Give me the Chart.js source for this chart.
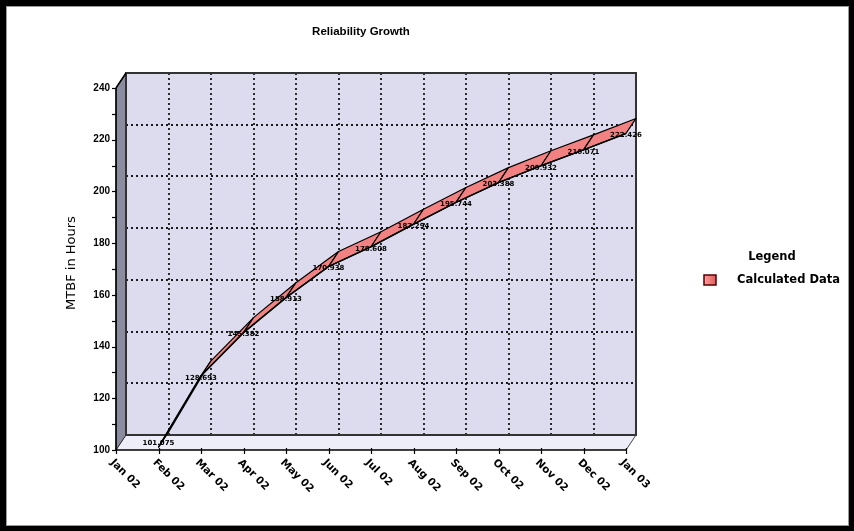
<!DOCTYPE html>
<html>
<head>
<meta charset="utf-8">
<script src="https://cdn.jsdelivr.net/npm/chart.js@4/dist/chart.umd.min.js"></script>
<style>
html,body{margin:0;padding:0;background:#fff;}
#wrap{width:854px;height:531px;position:relative;}
</style>
</head>
<body>
<div id="wrap"><canvas id="c" width="854" height="531"></canvas></div>
<script>
const categories = ['Jan 02','Feb 02','Mar 02','Apr 02','May 02','Jun 02','Jul 02','Aug 02','Sep 02','Oct 02','Nov 02','Dec 02','Jan 03'];
const mtbfValues = [null, 101.075, 128.693, 145.382, 158.913, 170.938, 178.608, 187.294, 195.744, 203.388, 209.932, 216.071, 222.426];
const yTicks = [100, 120, 140, 160, 180, 200, 220, 240];
const chartTitle = 'Reliability Growth';
const yTitle = 'MTBF in Hours';
const legendTitle = 'Legend';
const seriesName = 'Calculated Data';

const DX = 10, DY = -15;
const FONT = '"Liberation Sans", Arial, sans-serif';
const VFONT = '"DejaVu Sans", Verdana, sans-serif';

const deco = {
  id: 'deco',
  beforeDraw(chart) {
    const ctx = chart.ctx, a = chart.chartArea, ys = chart.scales.y, xs = chart.scales.x;
    const W = chart.width, H = chart.height;
    ctx.save();
    // frame
    ctx.fillStyle = '#000';
    ctx.fillRect(0, 0, W, H);
    ctx.fillStyle = '#fff';
    ctx.fillRect(6, 6, 843, 520);
    ctx.strokeStyle = '#9a9a9a';
    ctx.lineWidth = 1;
    ctx.strokeRect(6.5, 6.5, 842, 519);
    const L = a.left, R = a.right, T = a.top, B = a.bottom;
    // floor
    ctx.fillStyle = '#eeeef8';
    ctx.beginPath();
    ctx.moveTo(L, B); ctx.lineTo(R, B); ctx.lineTo(R + DX, B + DY); ctx.lineTo(L + DX, B + DY); ctx.closePath();
    ctx.fill();
    // side wall
    ctx.fillStyle = '#8c8ca0';
    ctx.beginPath();
    ctx.moveTo(L, T); ctx.lineTo(L + DX, T + DY); ctx.lineTo(L + DX, B + DY); ctx.lineTo(L, B); ctx.closePath();
    ctx.fill();
    ctx.strokeStyle = '#222'; ctx.lineWidth = 1; ctx.stroke();
    // back wall
    ctx.fillStyle = '#dcdcee';
    ctx.fillRect(L + DX, T + DY, R - L, B - T);
    // grid
    ctx.strokeStyle = '#1a1a1a';
    ctx.lineWidth = 1.8;
    ctx.setLineDash([2, 3]);
    yTicks.forEach(v => {
      if (v === ys.min || v === ys.max) return;
      const y = Math.round(ys.getPixelForValue(v)) + DY;
      ctx.beginPath(); ctx.moveTo(L + DX, y); ctx.lineTo(R + DX, y); ctx.stroke();
    });
    categories.forEach((c, i) => {
      if (i === 0 || i === categories.length - 1) return;
      const x = Math.round(xs.getPixelForValue(i)) + DX;
      ctx.beginPath(); ctx.moveTo(x, T + DY); ctx.lineTo(x, B + DY); ctx.stroke();
    });
    ctx.setLineDash([]);
    // back wall border
    ctx.strokeStyle = '#333';
    ctx.lineWidth = 2;
    ctx.strokeRect(L + DX, T + DY, R - L, B - T);
    ctx.lineWidth = 1;
    ctx.strokeStyle = '#444';
    ctx.beginPath(); ctx.moveTo(R, B); ctx.lineTo(R + DX, B + DY); ctx.stroke();
    // titles
    ctx.fillStyle = '#000';
    ctx.font = 'bold 11.5px ' + FONT;
    ctx.textAlign = 'center'; ctx.textBaseline = 'middle';
    ctx.fillText(chartTitle, 361, 32);
    ctx.save();
    ctx.translate(72, 263); ctx.rotate(-Math.PI / 2);
    ctx.font = '13px ' + VFONT;
    ctx.fillText(yTitle, 0, 0);
    ctx.restore();
    // legend
    ctx.font = 'bold 11.5px ' + VFONT;
    ctx.fillText(legendTitle, 772, 257);
    const g = ctx.createLinearGradient(704, 0, 716, 0);
    g.addColorStop(0, '#ff9c9c'); g.addColorStop(1, '#e05c5c');
    ctx.fillStyle = g;
    ctx.fillRect(704, 275, 12, 10);
    ctx.strokeStyle = '#500'; ctx.lineWidth = 1.5;
    ctx.strokeRect(704, 275, 12, 10);
    ctx.fillStyle = '#000';
    ctx.textAlign = 'left';
    ctx.fillText(seriesName, 737, 280);
    ctx.restore();
  },
  beforeDatasetsDraw(chart) {
    const ctx = chart.ctx;
    const pts = chart.getDatasetMeta(0).data.filter((p, i) => mtbfValues[i] !== null);
    ctx.save();
    ctx.fillStyle = '#f28282';
    ctx.strokeStyle = '#000';
    ctx.lineWidth = 1.2;
    ctx.lineJoin = 'round';
    for (let i = 0; i < pts.length - 1; i++) {
      const p = pts[i], q = pts[i + 1];
      ctx.beginPath();
      ctx.moveTo(p.x, p.y); ctx.lineTo(q.x, q.y);
      ctx.lineTo(q.x + DX, q.y + DY); ctx.lineTo(p.x + DX, p.y + DY);
      ctx.closePath();
      ctx.fill(); ctx.stroke();
    }
    ctx.restore();
  },
  afterDatasetsDraw(chart) {
    const ctx = chart.ctx, a = chart.chartArea, ys = chart.scales.y, xs = chart.scales.x;
    const meta = chart.getDatasetMeta(0);
    ctx.save();
    ctx.fillStyle = '#000';
    ctx.font = 'bold 7px ' + VFONT;
    ctx.textAlign = 'center'; ctx.textBaseline = 'middle';
    meta.data.forEach((p, i) => {
      const v = mtbfValues[i];
      if (v === null) return;
      ctx.fillText(v.toFixed(3), p.x, Math.min(p.y + 2, a.bottom - 7));
    });
    // axes
    const L = a.left, R = a.right, T = a.top, B = a.bottom;
    ctx.strokeStyle = '#000';
    ctx.lineWidth = 1.5;
    ctx.beginPath(); ctx.moveTo(L, T); ctx.lineTo(L, B); ctx.lineTo(R, B); ctx.stroke();
    ctx.beginPath(); ctx.moveTo(L, T); ctx.lineTo(L + DX, T + DY); ctx.stroke();
    ctx.lineWidth = 1.2;
    for (let v = ys.min; v <= ys.max; v += 10) {
      const y = Math.round(ys.getPixelForValue(v)) + 0.5;
      ctx.beginPath(); ctx.moveTo(L - 4, y); ctx.lineTo(L + 1, y); ctx.stroke();
    }
    categories.forEach((c, i) => {
      const x = Math.round(xs.getPixelForValue(i)) + 0.5;
      ctx.beginPath(); ctx.moveTo(x, B - 2); ctx.lineTo(x, B + 4); ctx.stroke();
    });
    ctx.font = 'bold 10px ' + FONT;
    ctx.textAlign = 'right';
    yTicks.forEach(v => {
      ctx.fillText(String(v), L - 6, ys.getPixelForValue(v));
    });
    ctx.font = 'bold 10.5px ' + VFONT;
    ctx.textAlign = 'left';
    categories.forEach((c, i) => {
      const x = xs.getPixelForValue(i);
      ctx.save();
      ctx.translate(x - 4, B + 11);
      ctx.rotate(Math.PI / 4);
      ctx.fillText(c, 0, 0);
      ctx.restore();
    });
    ctx.restore();
  }
};

new Chart(document.getElementById('c'), {
  type: 'line',
  data: {
    labels: categories,
    datasets: [{
      label: seriesName,
      data: mtbfValues,
      borderColor: '#000',
      borderWidth: 1.5,
      pointRadius: 0,
      tension: 0,
      fill: false
    }]
  },
  options: {
    responsive: false,
    animation: false,
    devicePixelRatio: 1,
    layout: { padding: { left: 116, right: 228, top: 88, bottom: 81 } },
    plugins: { legend: { display: false }, title: { display: false }, tooltip: { enabled: false } },
    scales: {
      x: { type: 'category', display: false, offset: false },
      y: { display: false, min: 100, max: 240 }
    }
  },
  plugins: [deco]
});
</script>
</body>
</html>
